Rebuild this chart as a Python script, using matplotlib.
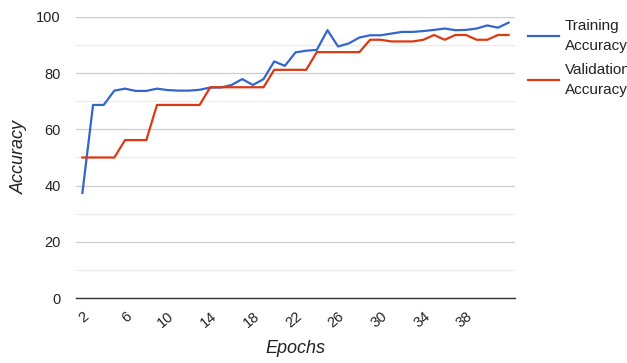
import matplotlib.pyplot as plt

plt.rcParams["font.family"] = ["Liberation Sans", "DejaVu Sans"]

epochs = list(range(2, 43))
training = [37.4, 68.7, 68.7, 73.8, 74.5, 73.7, 73.7, 74.5, 74.0, 73.8,
            73.8, 74.1, 74.9, 74.9, 75.8, 77.9, 75.8, 77.9, 84.2, 82.6,
            87.4, 88.0, 88.3, 95.3, 89.5, 90.6, 92.7, 93.5, 93.5, 94.1,
            94.7, 94.7, 95.0, 95.4, 95.9, 95.3, 95.4, 95.9, 97.0, 96.2, 98.0]
validation = [50.0, 50.0, 50.0, 50.0, 56.2, 56.2, 56.2, 68.7, 68.7, 68.7,
              68.7, 68.7, 75.0, 75.0, 75.0, 75.0, 75.0, 75.0, 81.2, 81.2,
              81.2, 81.2, 87.5, 87.5, 87.5, 87.5, 87.5, 91.9, 91.9, 91.3,
              91.3, 91.3, 91.9, 93.6, 91.9, 93.6, 93.6, 91.9, 91.9, 93.6, 93.6]
xticks = list(range(2, 39, 4))
yticks = [0, 20, 40, 60, 80, 100]

fig = plt.figure(figsize=(6.27, 3.63), dpi=100)
ax = fig.add_axes([76 / 627, 65 / 363, 439 / 627, 281 / 363])

ax.plot(epochs, training, color="#3366cc", lw=1.6, label="Training\nAccuracy")
ax.plot(epochs, validation, color="#dc3912", lw=1.6, label="Validation\nAccuracy")

ax.set_xlim(1.4, 42.6)
ax.set_ylim(0, 100)
ax.set_yticks(yticks)
ax.set_yticks(range(10, 100, 20), minor=True)
ax.set_xticks(xticks)
ax.set_xticklabels([str(t) for t in xticks], rotation=40, ha="right",
                   va="top", rotation_mode="anchor")
ax.tick_params(axis="both", length=0, labelsize=10.5, colors="#222222", which="both")
ax.tick_params(axis="x", pad=8)
ax.tick_params(axis="y", pad=11)
ax.grid(axis="y", which="major", color="#cccccc", lw=0.9)
ax.grid(axis="y", which="minor", color="#ebebeb", lw=0.9)
ax.set_axisbelow(True)
for s in ["top", "right", "left"]:
    ax.spines[s].set_visible(False)
ax.spines["bottom"].set_color("#333333")
ax.spines["bottom"].set_linewidth(1.0)

ax.set_xlabel("Epochs", fontsize=13, style="italic", color="#222222", labelpad=7)
ax.set_ylabel("Accuracy", fontsize=13, style="italic", color="#222222", labelpad=6)

leg = ax.legend(loc="upper left", bbox_to_anchor=(528 / 627, 1 - 19 / 363),
                bbox_transform=fig.transFigure, frameon=False, fontsize=11,
                handlelength=2.0, handletextpad=0.4, labelspacing=0.65,
                borderpad=0, borderaxespad=0, labelcolor="#222222")
for t in leg.get_texts():
    t.set_linespacing(1.55)

fig.savefig("out.png", dpi=100)
